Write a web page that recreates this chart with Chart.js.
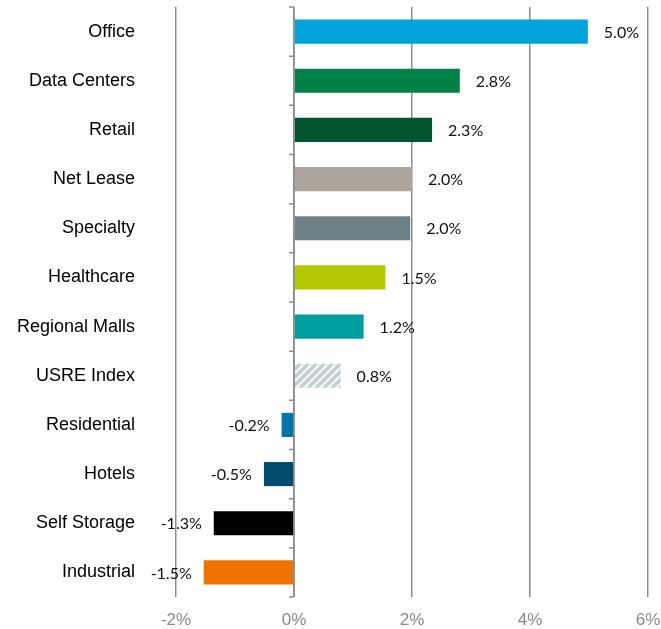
<!DOCTYPE html>
<html>
<head>
<meta charset="utf-8">
<script src="https://cdn.jsdelivr.net/npm/chart.js@4/dist/chart.umd.min.js"></script>
<style>
  html, body { margin: 0; padding: 0; background: #fff; }
  #wrap { width: 661px; height: 629px; }
</style>
</head>
<body>
<div id="wrap"><canvas id="chart"></canvas></div>
<script>
const sectors = ["Office", "Data Centers", "Retail", "Net Lease", "Specialty", "Healthcare",
  "Regional Malls", "USRE Index", "Residential", "Hotels", "Self Storage", "Industrial"];
const returns = [4.98, 2.81, 2.34, 2.0, 1.97, 1.55, 1.18, 0.79, -0.21, -0.51, -1.36, -1.53];
const returnLabels = ["5.0%", "2.8%", "2.3%", "2.0%", "2.0%", "1.5%", "1.2%", "0.8%",
  "-0.2%", "-0.5%", "-1.3%", "-1.5%"];
const xTicks = [-2, 0, 2, 4, 6];

// striped fill for the index bar
function stripes() {
  const c = document.createElement("canvas");
  c.width = 8; c.height = 8;
  const g = c.getContext("2d");
  g.fillStyle = "#eef2f3";
  g.fillRect(0, 0, 8, 8);
  g.strokeStyle = "#bfcbd0";
  g.lineWidth = 3;
  g.beginPath();
  g.moveTo(-2, 10); g.lineTo(10, -2);
  g.moveTo(-6, 6); g.lineTo(6, -6);
  g.moveTo(2, 14); g.lineTo(14, 2);
  g.stroke();
  return g.createPattern(c, "repeat");
}

const colors = ["#00a3da", "#008148", "#005530", "#aea69c", "#6c8286", "#b4c800",
  "#009e9f", stripes(), "#0075ad", "#004c6e", "#000000", "#ef7300"];

// small ticks on the zero line + value labels
const extras = {
  id: "extras",
  afterDatasetsDraw(chart) {
    const ctx = chart.ctx;
    const x = chart.scales.x;
    const x0 = x.getPixelForValue(0);
    const top = chart.chartArea.top, bottom = chart.chartArea.bottom;
    const band = (bottom - top) / sectors.length;
    ctx.save();
    ctx.strokeStyle = "#8c8c8c";
    ctx.lineWidth = 1.5;
    ctx.beginPath();
    ctx.moveTo(x0, top); ctx.lineTo(x0, bottom);
    for (let k = 0; k <= sectors.length; k++) {
      const yy = top + k * band;
      ctx.moveTo(x0 - 5, yy); ctx.lineTo(x0, yy);
    }
    ctx.stroke();

    ctx.font = "16px Lato, 'Open Sans', sans-serif";
    ctx.fillStyle = "#111";
    ctx.textBaseline = "middle";
    chart.getDatasetMeta(0).data.forEach((bar, i) => {
      if (returns[i] >= 0) {
        ctx.textAlign = "left";
        ctx.fillText(returnLabels[i], bar.x + 16, bar.y + 1);
      } else {
        ctx.textAlign = "right";
        ctx.fillText(returnLabels[i], bar.x - 12, bar.y + 1);
      }
    });
    ctx.restore();
  }
};

new Chart(document.getElementById("chart"), {
  type: "bar",
  data: {
    labels: sectors,
    datasets: [{
      data: returns,
      backgroundColor: colors,
      barPercentage: 0.49,
      categoryPercentage: 1
    }]
  },
  options: {
    indexAxis: "y",
    responsive: true,
    maintainAspectRatio: false,
    animation: false,
    layout: { padding: { top: 7, right: 13, left: 0, bottom: 0 } },
    plugins: { legend: { display: false }, tooltip: { enabled: false } },
    scales: {
      x: {
        min: -2,
        max: 6,
        afterBuildTicks: s => { s.ticks = xTicks.map(v => ({ value: v })); },
        afterFit: s => { s.height = 32; s.paddingLeft = 0; s.paddingRight = 0; },
        border: { display: false },
        grid: { color: "#8c8c8c", lineWidth: 1.5, drawTicks: false },
        ticks: {
          padding: 13,
          color: "#8a8a8a",
          font: { family: "'Liberation Sans', Arial, sans-serif", size: 17 },
          callback: v => v + "%"
        }
      },
      y: {
        afterFit: s => { s.width = 176; s.paddingTop = 0; s.paddingBottom = 0; },
        border: { display: false },
        grid: { display: false, drawTicks: false },
        ticks: {
          padding: 41,
          color: "#000",
          font: { family: "'Liberation Sans', Arial, sans-serif", size: 18 }
        }
      }
    }
  },
  plugins: [extras]
});
</script>
</body>
</html>
